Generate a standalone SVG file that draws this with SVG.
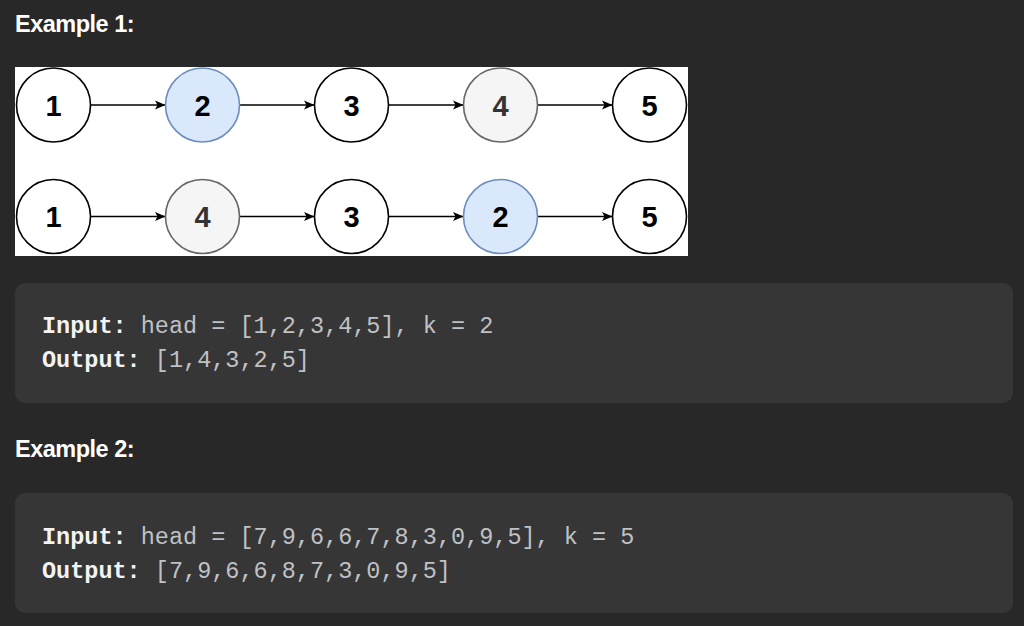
<svg xmlns="http://www.w3.org/2000/svg" width="1024" height="626" viewBox="0 0 1024 626">
<defs>
<style>
.title{font-family:"Liberation Sans",Arial,sans-serif;font-weight:bold;font-size:23.5px;letter-spacing:-0.5px;fill:#ffffff}
.code{font-family:"Liberation Mono","DejaVu Sans Mono",monospace;font-size:23.5px;fill:#bfc1c5}
.code .k{font-weight:bold;fill:#f3f3f3}
.box{fill:#363636}
.n{stroke-width:1.6}
.plain{fill:#ffffff;stroke:#000000}
.blue{fill:#dae8fc;stroke:#6c8ebf}
.gray{fill:#f5f5f5;stroke:#666666}
.lbl{font-family:"Liberation Sans",Arial,sans-serif;font-weight:bold;font-size:29px;text-anchor:middle;fill:#000000}
.lbl.g{fill:#333333}
.edge{stroke:#000000;stroke-width:1.5;fill:none;marker-end:url(#arr)}
</style>
<marker id="arr" markerWidth="12" markerHeight="10" refX="10.5" refY="5" orient="auto" markerUnits="userSpaceOnUse">
<path d="M0,0.5 L10.5,5 L0,9.5 L2.5,5 Z" fill="#000000"/>
</marker>
</defs>
<rect width="1024" height="626" fill="#282828"/>
<text class="title" x="15" y="32">Example 1:</text>
<rect x="15" y="67" width="673" height="189" fill="#ffffff"/>
<g id="connectors">
<line class="edge" x1="91" y1="105" x2="165.5" y2="105"/>
<line class="edge" x1="240" y1="105" x2="314.5" y2="105"/>
<line class="edge" x1="389" y1="105" x2="463.5" y2="105"/>
<line class="edge" x1="538" y1="105" x2="612.5" y2="105"/>
<line class="edge" x1="91" y1="216.5" x2="165.5" y2="216.5"/>
<line class="edge" x1="240" y1="216.5" x2="314.5" y2="216.5"/>
<line class="edge" x1="389" y1="216.5" x2="463.5" y2="216.5"/>
<line class="edge" x1="538" y1="216.5" x2="612.5" y2="216.5"/>
</g>
<g id="r1n1"><circle class="n plain" cx="53.5" cy="105" r="37"/><text class="lbl" x="53.5" y="115.5">1</text></g>
<g id="r1n2"><circle class="n blue" cx="202.5" cy="105" r="37"/><text class="lbl" x="202.5" y="115.5">2</text></g>
<g id="r1n3"><circle class="n plain" cx="351.5" cy="105" r="37"/><text class="lbl" x="351.5" y="115.5">3</text></g>
<g id="r1n4"><circle class="n gray" cx="500.5" cy="105" r="37"/><text class="lbl g" x="500.5" y="115.5">4</text></g>
<g id="r1n5"><circle class="n plain" cx="649.5" cy="105" r="37"/><text class="lbl" x="649.5" y="115.5">5</text></g>
<g id="r2n1"><circle class="n plain" cx="53.5" cy="216.5" r="37"/><text class="lbl" x="53.5" y="227">1</text></g>
<g id="r2n2"><circle class="n gray" cx="202.5" cy="216.5" r="37"/><text class="lbl g" x="202.5" y="227">4</text></g>
<g id="r2n3"><circle class="n plain" cx="351.5" cy="216.5" r="37"/><text class="lbl" x="351.5" y="227">3</text></g>
<g id="r2n4"><circle class="n blue" cx="500.5" cy="216.5" r="37"/><text class="lbl" x="500.5" y="227">2</text></g>
<g id="r2n5"><circle class="n plain" cx="649.5" cy="216.5" r="37"/><text class="lbl" x="649.5" y="227">5</text></g>
<g id="ex1code">
<rect class="box" x="15" y="283" width="998" height="120" rx="10"/>
<text class="code" x="42" y="333"><tspan class="k">Input:</tspan> head = [1,2,3,4,5], k = 2</text>
<text class="code" x="42" y="367"><tspan class="k">Output:</tspan> [1,4,3,2,5]</text>
</g>
<text class="title" x="15" y="457">Example 2:</text>
<g id="ex2code">
<rect class="box" x="15" y="493" width="998" height="120" rx="10"/>
<text class="code" x="42" y="544"><tspan class="k">Input:</tspan> head = [7,9,6,6,7,8,3,0,9,5], k = 5</text>
<text class="code" x="42" y="578"><tspan class="k">Output:</tspan> [7,9,6,6,8,7,3,0,9,5]</text>
</g>
</svg>
